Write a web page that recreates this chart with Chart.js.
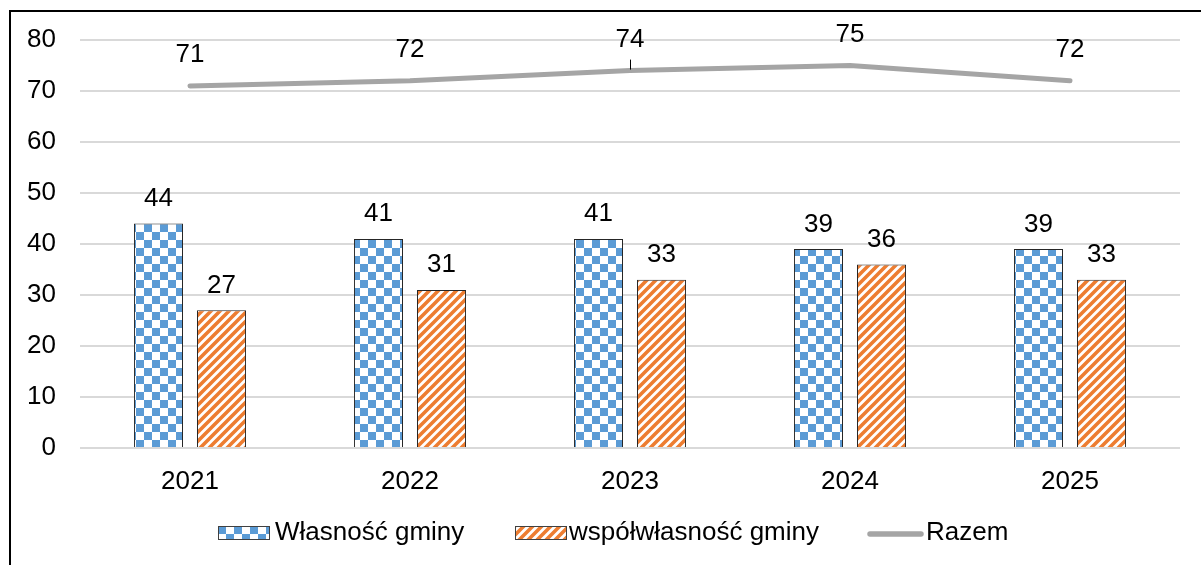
<!DOCTYPE html>
<html>
<head>
<meta charset="utf-8">
<script src="https://cdn.jsdelivr.net/npm/chart.js@4"></script>
<style>
  html, body { margin: 0; padding: 0; background: #fff; overflow: hidden; }
  #wrap { position: relative; width: 1201px; height: 565px; overflow: hidden; font-family: "Liberation Sans", Arial, sans-serif; }
  #chart { position: absolute; left: 0; top: 0; }
  #ramka { position: absolute; left: 9px; top: 10px; width: 1400px; height: 800px; border: 2px solid #000; box-sizing: border-box; pointer-events: none; }
  .leg { position: absolute; font-size: 26px; line-height: 26px; color: #000; white-space: nowrap; }
  .sw { position: absolute; }
</style>
</head>
<body>
<div id="wrap">
  <canvas id="chart" width="1201" height="565"></canvas>
  <div id="ramka"></div>
  <canvas class="sw" id="swBlue" width="52" height="14" style="left:218px; top:526px;"></canvas>
  <span class="leg" style="left:275px; top:518px;">Własność gminy</span>
  <canvas class="sw" id="swOrange" width="52" height="14" style="left:515px; top:526px;"></canvas>
  <span class="leg" style="left:569px; top:518px;">współwłasność gminy</span>
  <canvas class="sw" id="swLine" width="62" height="12" style="left:865px; top:528px;"></canvas>
  <span class="leg" style="left:926px; top:518px;">Razem</span>
</div>
<script>
const lata = ['2021', '2022', '2023', '2024', '2025'];
const wlasnoscGminy = [44, 41, 41, 39, 39];
const wspolwlasnoscGminy = [27, 31, 33, 36, 33];
const razem = [71, 72, 74, 75, 72];
const yTicki = [0, 10, 20, 30, 40, 50, 60, 70, 80];

const NIEBIESKI = '#5b9bd5';
const POMARANCZ = '#ed7d31';
const SZARY = '#a5a5a5';
const CZCIONKA = '"Liberation Sans", Arial, sans-serif';

// wzory wypelnienia slupkow (szachownica i ukosne paski)
function szachownica(ctx) {
  const c = document.createElement('canvas');
  c.width = 16; c.height = 16;
  const g = c.getContext('2d');
  g.fillStyle = '#fff';
  g.fillRect(0, 0, 16, 16);
  g.fillStyle = NIEBIESKI;
  g.fillRect(0, 0, 8, 8);
  g.fillRect(8, 8, 8, 8);
  return ctx.createPattern(c, 'repeat');
}

function paski(ctx) {
  const s = 9;
  const c = document.createElement('canvas');
  c.width = s; c.height = s;
  const g = c.getContext('2d');
  g.fillStyle = '#fff';
  g.fillRect(0, 0, s, s);
  g.strokeStyle = POMARANCZ;
  g.lineWidth = 3.6;
  g.beginPath();
  g.moveTo(-2, s + 2); g.lineTo(s + 2, -2);
  g.moveTo(-2, 2); g.lineTo(2, -2);
  g.moveTo(s - 2, s + 2); g.lineTo(s + 2, s - 2);
  g.stroke();
  return ctx.createPattern(c, 'repeat');
}

const ctx = document.getElementById('chart').getContext('2d');

// etykiety z wartosciami nad slupkami i linia
const etykiety = {
  id: 'etykiety',
  afterDatasetsDraw(chart) {
    const c = chart.ctx;
    c.save();
    c.font = '26px ' + CZCIONKA;
    c.fillStyle = '#000';
    c.textAlign = 'center';
    c.textBaseline = 'alphabetic';
    chart.data.datasets.forEach((ds, i) => {
      const meta = chart.getDatasetMeta(i);
      const odstep = ds.type === 'line' ? 23.5 : 17.5;
      meta.data.forEach((el, j) => {
        c.fillText(String(ds.data[j]), el.x, el.y - odstep);
      });
      if (ds.type === 'line') {
        // linia odniesienia przy etykiecie 74
        const el = meta.data[2];
        c.strokeStyle = '#000';
        c.lineWidth = 1;
        c.beginPath();
        c.moveTo(Math.round(el.x) + 0.5, el.y - 11);
        c.lineTo(Math.round(el.x) + 0.5, el.y - 1);
        c.stroke();
      }
    });
    c.restore();
  }
};

const wykres = new Chart(ctx, {
  data: {
    labels: lata,
    datasets: [
      {
        type: 'line',
        label: 'Razem',
        data: razem,
        borderColor: SZARY,
        backgroundColor: SZARY,
        borderWidth: 5,
        borderCapStyle: 'round',
        pointRadius: 0,
        tension: 0,
        order: 0
      },
      {
        type: 'bar',
        label: 'Własność gminy',
        data: wlasnoscGminy,
        backgroundColor: szachownica(ctx),
        borderColor: '#262626',
        borderWidth: 1,
        categoryPercentage: 0.573,
        barPercentage: 0.778,
        order: 1
      },
      {
        type: 'bar',
        label: 'współwłasność gminy',
        data: wspolwlasnoscGminy,
        backgroundColor: paski(ctx),
        borderColor: '#262626',
        borderWidth: 1,
        categoryPercentage: 0.573,
        barPercentage: 0.778,
        order: 1
      }
    ]
  },
  options: {
    responsive: false,
    animation: false,
    layout: { padding: { left: 20, right: 21, top: 40, bottom: 0 } },
    plugins: {
      legend: { display: false },
      tooltip: { enabled: false }
    },
    scales: {
      x: {
        offset: true,
        grid: { display: false },
        border: { display: false },
        ticks: {
          color: '#000',
          padding: 10,
          font: { family: CZCIONKA, size: 26 }
        },
        afterFit(axis) { axis.height = 117; }
      },
      y: {
        min: yTicki[0],
        max: yTicki[yTicki.length - 1],
        afterBuildTicks(axis) { axis.ticks = yTicki.map(v => ({ value: v })); },
        grid: { color: '#d9d9d9', lineWidth: 2, drawTicks: false },
        border: { display: false },
        ticks: {
          color: '#000',
          padding: 24,
          font: { family: CZCIONKA, size: 26 }
        },
        afterFit(axis) { axis.width = 60; }
      }
    }
  },
  plugins: [etykiety]
});

// probki legendy
function probka(id, wzor) {
  const c = document.getElementById(id);
  const g = c.getContext('2d');
  g.fillStyle = wzor(g);
  g.fillRect(0, 0, c.width, c.height);
  g.strokeStyle = '#404040';
  g.lineWidth = 1;
  g.strokeRect(0.5, 0.5, c.width - 1, c.height - 1);
}
probka('swBlue', szachownica);
probka('swOrange', paski);

const ln = document.getElementById('swLine').getContext('2d');
ln.strokeStyle = SZARY;
ln.lineWidth = 5.5;
ln.lineCap = 'round';
ln.beginPath();
ln.moveTo(5, 6);
ln.lineTo(56, 6);
ln.stroke();
</script>
</body>
</html>
